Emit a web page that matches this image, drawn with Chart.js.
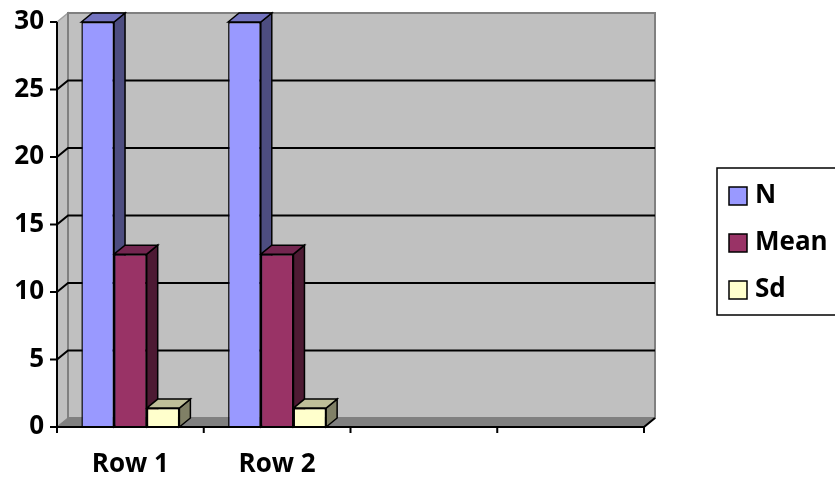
<!DOCTYPE html>
<html lang="en">
<head>
  <meta charset="UTF-8">
  <title>N / Mean / Sd</title>
  <script src="https://cdn.jsdelivr.net/npm/chart.js"></script>
  <style>
    body { margin: 0; background: #fff; }
  </style>
</head>
<body>

  <canvas id="statsChart" width="835" height="480"></canvas>

  <script>
    // data
    const categories = ['Row 1', 'Row 2', '', ''];
    const nValues = [30, 30, null, null];
    const meanValues = [12.8, 12.8, null, null];
    const sdValues = [1.4, 1.4, null, null];
    const yTicks = [0, 5, 10, 15, 20, 25, 30];

    // 3D depth offset
    const DX = 11, DY = 9;
    const FONT = 'bold 26px "Open Sans"';

    // front / side / top colours per series
    const faces = [
      { front: '#9999FF', side: '#4D4D80', top: '#7373BF' },
      { front: '#993366', side: '#4D1A33', top: '#732650' },
      { front: '#FFFFCC', side: '#808066', top: '#BFBF99' }
    ];

    function poly(ctx, pts, fill, stroke, lw) {
      ctx.beginPath();
      ctx.moveTo(pts[0][0], pts[0][1]);
      for (let i = 1; i < pts.length; i++) ctx.lineTo(pts[i][0], pts[i][1]);
      ctx.closePath();
      if (fill) { ctx.fillStyle = fill; ctx.fill(); }
      if (stroke) { ctx.strokeStyle = stroke; ctx.lineWidth = lw || 1; ctx.stroke(); }
    }

    // walls, floor, gridlines and the side/top faces of the bars
    const depthPlugin = {
      id: 'depth',
      beforeDatasetsDraw(chart) {
        const ctx = chart.ctx;
        const a = chart.chartArea;
        const y = chart.scales.y;
        ctx.save();

        // left side wall
        poly(ctx, [[a.left, a.top], [a.left + DX, a.top - DY], [a.left + DX, a.bottom - DY], [a.left, a.bottom]], '#C0C0C0', '#A0A0A0', 1.5);
        // back wall
        poly(ctx, [[a.left + DX, a.top - DY], [a.right + DX, a.top - DY], [a.right + DX, a.bottom - DY], [a.left + DX, a.bottom - DY]], '#C0C0C0', '#808080', 2);
        // floor
        poly(ctx, [[a.left, a.bottom], [a.left + DX, a.bottom - DY], [a.right + DX, a.bottom - DY], [a.right, a.bottom]], '#808080', '#808080', 1);

        // gridlines on the wall
        ctx.strokeStyle = '#000';
        ctx.lineWidth = 2;
        yTicks.forEach(v => {
          if (v === 0 || v === 30) return;
          const py = y.getPixelForValue(v);
          ctx.beginPath();
          ctx.moveTo(a.left, py);
          ctx.lineTo(a.left + DX, py - DY);
          ctx.lineTo(a.right + DX, py - DY);
          ctx.stroke();
        });

        // side and top faces, series in order so later ones overlap
        chart.data.datasets.forEach((ds, di) => {
          const meta = chart.getDatasetMeta(di);
          meta.data.forEach((bar, i) => {
            if (ds.data[i] == null) return;
            const p = bar.getProps(['x', 'y', 'base', 'width'], true);
            const l = p.x - p.width / 2, r = p.x + p.width / 2;
            poly(ctx, [[r, p.y], [r + DX, p.y - DY], [r + DX, p.base - DY], [r, p.base]], faces[di].side, '#000', 1.5);
            poly(ctx, [[l, p.y], [l + DX, p.y - DY], [r + DX, p.y - DY], [r, p.y]], faces[di].top, '#000', 1.5);
          });
        });
        ctx.restore();
      },
      afterDraw(chart) {
        const ctx = chart.ctx;
        const a = chart.chartArea;
        const y = chart.scales.y;
        ctx.save();
        ctx.strokeStyle = '#000';
        ctx.lineWidth = 2;

        // value axis with ticks
        ctx.beginPath();
        ctx.moveTo(a.left, a.top);
        ctx.lineTo(a.left, a.bottom);
        yTicks.forEach(v => {
          const py = y.getPixelForValue(v);
          ctx.moveTo(a.left - 7, py);
          ctx.lineTo(a.left, py);
        });
        // category axis with ticks between categories
        ctx.moveTo(a.left, a.bottom);
        ctx.lineTo(a.right, a.bottom);
        ctx.lineTo(a.right + DX, a.bottom - DY);
        for (let i = 0; i <= categories.length; i++) {
          const px = a.left + (a.right - a.left) * i / categories.length;
          ctx.moveTo(px, a.bottom);
          ctx.lineTo(px, a.bottom + 6);
        }
        ctx.stroke();

        // legend
        const lx = 717, ly = 168;
        ctx.lineWidth = 1.5;
        ctx.strokeRect(lx, ly, 140, 147);
        ctx.font = FONT;
        ctx.textBaseline = 'middle';
        const rows = [196, 243, 290];
        chart.data.datasets.forEach((ds, di) => {
          ctx.fillStyle = faces[di].front;
          ctx.fillRect(729, rows[di] - 9, 18, 18);
          ctx.strokeRect(729, rows[di] - 9, 18, 18);
          ctx.fillStyle = '#000';
          ctx.fillText(ds.label, 755, rows[di]);
        });
        ctx.restore();
      }
    };

    const tickFont = { family: 'Open Sans', size: 26, weight: 'bold' };

    const ctx = document.getElementById('statsChart').getContext('2d');
    const statsChart = new Chart(ctx, {
      type: 'bar',
      data: {
        labels: categories,
        datasets: [
          { label: 'N', data: nValues, backgroundColor: faces[0].front },
          { label: 'Mean', data: meanValues, backgroundColor: faces[1].front },
          { label: 'Sd', data: sdValues, backgroundColor: faces[2].front }
        ]
      },
      options: {
        responsive: false,
        animation: false,
        layout: { padding: { top: 22, right: 191, left: 0, bottom: 0 } },
        datasets: {
          bar: {
            borderColor: '#000',
            borderWidth: 1.5,
            categoryPercentage: 0.668,
            barPercentage: 1
          }
        },
        plugins: {
          legend: { display: false },
          tooltip: { enabled: false }
        },
        scales: {
          x: {
            grid: { display: false, drawTicks: false },
            border: { display: false },
            ticks: {
              autoSkip: false,
              maxRotation: 0,
              color: '#000',
              padding: 22,
              font: tickFont
            },
            afterFit(scale) {
              scale.height = 53;
              scale.paddingLeft = 0;
              scale.paddingRight = 0;
            }
          },
          y: {
            min: 0,
            max: 30,
            grid: { display: false, drawTicks: false },
            border: { display: false },
            ticks: {
              stepSize: 5,
              color: '#000',
              padding: 13,
              font: tickFont
            },
            afterFit(scale) {
              scale.width = 57;
              scale.paddingTop = 0;
              scale.paddingBottom = 0;
            }
          }
        }
      },
      plugins: [depthPlugin]
    });
  </script>

</body>
</html>
